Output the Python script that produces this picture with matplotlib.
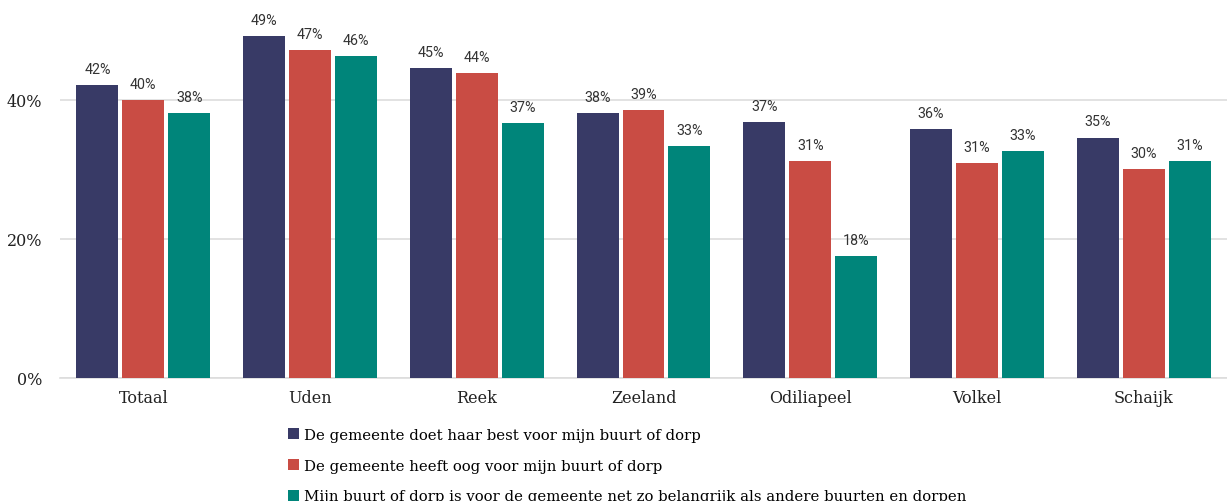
import matplotlib.pyplot as plt
import numpy as np

categories = ["Totaal", "Uden", "Reek", "Zeeland", "Odiliapeel", "Volkel", "Schaijk"]
series_names = [
    "De gemeente doet haar best voor mijn buurt of dorp",
    "De gemeente heeft oog voor mijn buurt of dorp",
    "Mijn buurt of dorp is voor de gemeente net zo belangrijk als andere buurten en dorpen",
]
doet_best = [42.1, 49.2, 44.6, 38.1, 36.9, 35.8, 34.6]
heeft_oog = [40.0, 47.2, 43.9, 38.6, 31.2, 30.9, 30.1]
net_zo = [38.1, 46.3, 36.7, 33.4, 17.6, 32.7, 31.2]
yticks = [0, 20, 40]

colors = ["#383a66", "#c94c44", "#00857a"]
serif = ["DejaVu Serif"]

fig = plt.figure(figsize=(12.27, 5.02), dpi=100, facecolor="white")
ax = fig.add_axes([60 / 1227, 1 - 379 / 502, 1 - 60 / 1227, 361.4 / 502])

x = np.arange(len(categories))
step = 0.2755
width = 0.2515
for i, (vals, col, name) in enumerate(zip([doet_best, heeft_oog, net_zo], colors, series_names)):
    pos = x + (i - 1) * step
    ax.bar(pos, vals, width, color=col, label=name, zorder=3)
    for px, v in zip(pos, vals):
        ax.text(px, v + 1.3, "%d%%" % round(v), ha="center", va="bottom",
                fontsize=10.3, family=["Roboto", "DejaVu Sans"], color="#333333")

ax.set_xlim(-0.5, len(categories) - 0.5)
ax.set_ylim(0, 52)
ax.set_yticks(yticks)
ax.set_yticklabels(["%d%%" % t for t in yticks], family=serif, fontsize=11.5, color="#222222")
ax.set_xticks(x)
ax.set_xticklabels(categories, family=serif, fontsize=11.5, color="#222222")
ax.tick_params(axis="both", length=0)
ax.tick_params(axis="y", pad=13)
ax.tick_params(axis="x", pad=8)
ax.grid(axis="y", color="#dddddd", linewidth=1.2, zorder=0)
for s in ["top", "right", "left"]:
    ax.spines[s].set_visible(False)
ax.spines["bottom"].set_color("#dddddd")
ax.spines["bottom"].set_linewidth(1.2)

fig.legend(loc="upper left", bbox_to_anchor=(288 / 1227, 1 - 429 / 502), frameon=False,
           prop={"family": serif, "size": 10.7}, handlelength=0.75, handleheight=0.75,
           handletextpad=0.3, labelspacing=1.12, borderpad=0, borderaxespad=0)

fig.savefig("out.png", dpi=100, facecolor="white")
